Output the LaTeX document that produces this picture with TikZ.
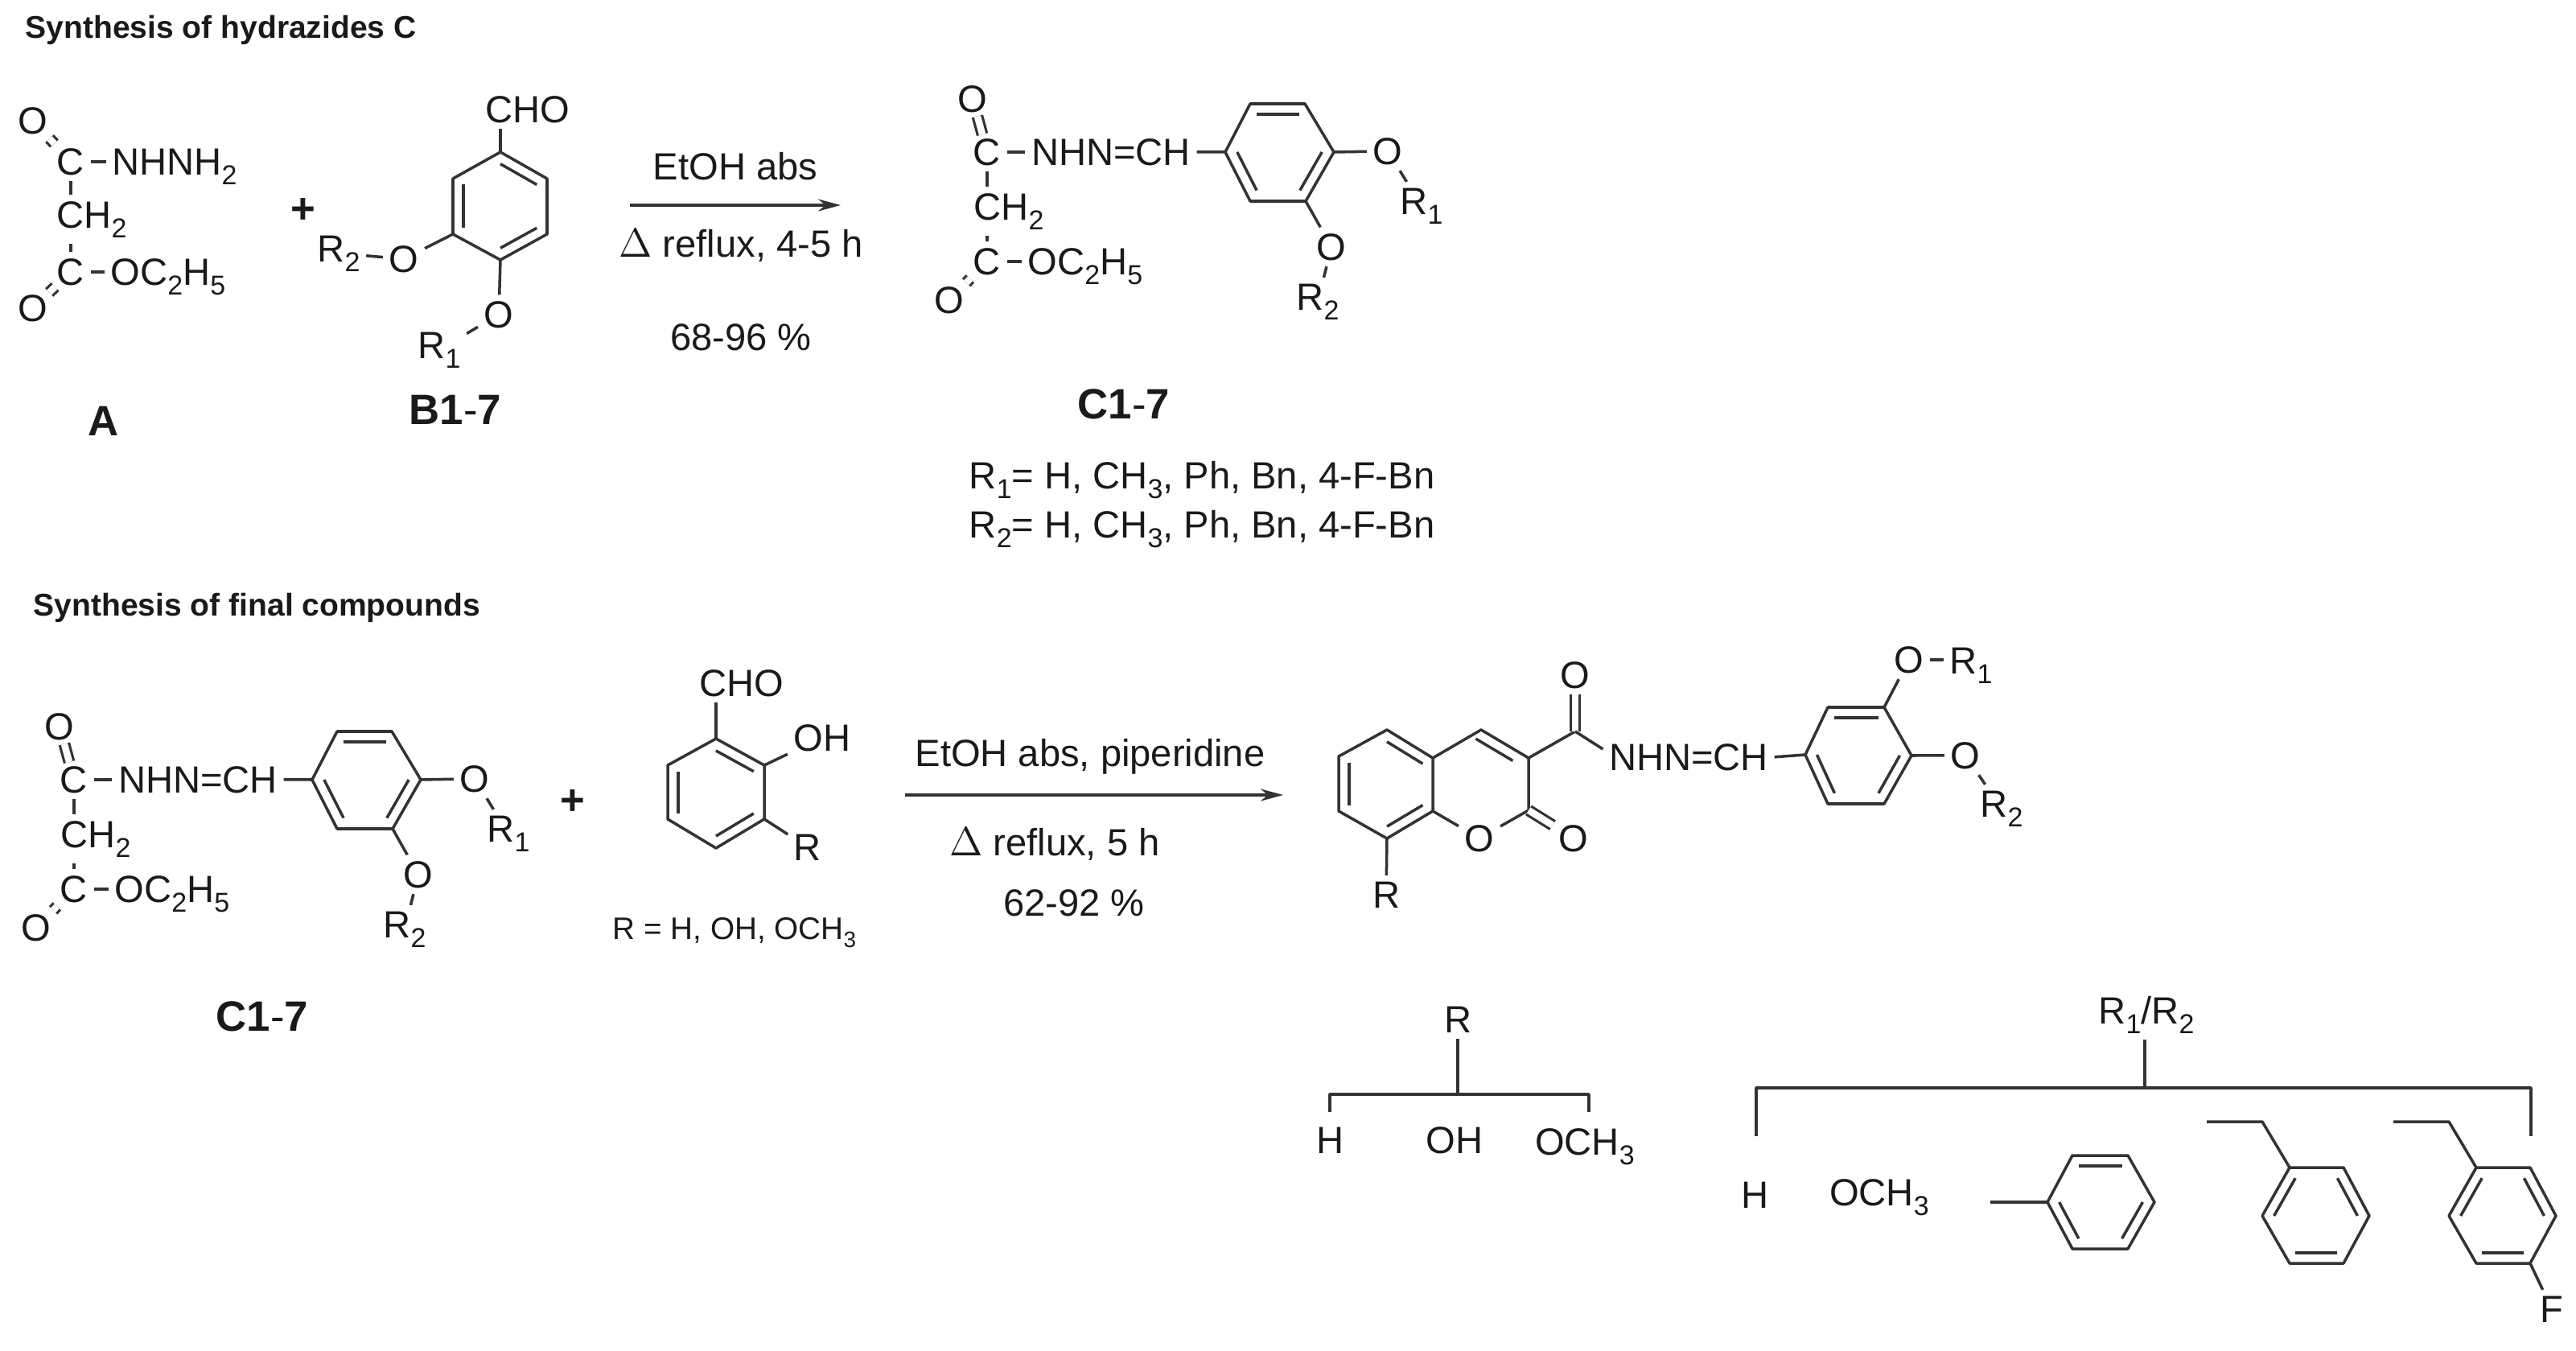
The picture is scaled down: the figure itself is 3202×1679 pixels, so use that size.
\documentclass[tikz,border=0pt]{standalone}
\usepackage{fontspec}
\setmainfont{Liberation Sans}
\usetikzlibrary{calc,arrows.meta}
\definecolor{ink}{HTML}{1A1A1A}
\definecolor{linec}{HTML}{333333}
\newcommand{\sbs}[1]{\raisebox{-.26em}{\scalebox{.72}{#1}}}
\tikzset{
  bond/.style={draw=linec,line width=1pt,line join=round},
  dbl/.style={bond,double=white,double distance=2.4pt,line width=.9pt},
  dblo/.style={dbl,shorten >=-.8pt,shorten <=-.8pt},
  atom/.style={anchor=base,yshift=-.15cm,inner sep=2pt,text=ink,font=\fontsize{13.4}{16}\selectfont},
  small/.style={atom,yshift=.03cm,font=\fontsize{11}{13}\selectfont},
  cpd/.style={atom,yshift=-.02cm,font=\fontsize{15}{18}\selectfont},
  ttl/.style={anchor=west,inner sep=0pt,text=ink,font=\fontsize{11.1}{13}\selectfont\bfseries},
  plus/.style={atom,yshift=-.04cm,font=\fontsize{15}{18}\selectfont\bfseries},
  rxn/.style={draw=linec,line width=1.1pt,-{Stealth[length=.28cm,width=.15cm]}},
}
\newcommand{\ringsix}[7]{%
  \coordinate (#1a) at (#2);\coordinate (#1b) at (#3);\coordinate (#1c) at (#4);
  \coordinate (#1d) at (#5);\coordinate (#1e) at (#6);\coordinate (#1f) at (#7);
  \coordinate (#1o) at ($(#1a)!.5!(#1d)$);
  \draw[bond] (#1a)--(#1b)--(#1c)--(#1d)--(#1e)--(#1f)--cycle;}
\newcommand{\inb}[3]{\draw[bond] ($(#1)!.22!(#3)$) -- ($(#2)!.22!(#3)$);}
% hydrazone fragment, origin on the first carbonyl carbon
\newcommand{\frag}[1]{%
  \node[atom] (#1Ot) at (-18,-66) {O};
  \node[atom] (#1C) at (0,0) {C};
  \node[atom] (#1N) at (154,0) {NHN=CH};
  \node[atom] (#1M) at (27,68) {CH\sbs{2}};
  \node[atom] (#1D) at (0,136) {C};
  \node[atom] (#1E) at (122,136) {OC\sbs{2}H\sbs{5}};
  \node[atom] (#1Ob) at (-47,184) {O};
  \draw[dblo] (#1Ot) -- (#1C);
  \draw[dblo] (#1Ob) -- (#1D);
  \draw[bond] (#1C.east) -- (#1C.east -| #1N.west);
  \draw[bond] (#1D.east) -- (#1D.east -| #1E.west);
  \draw[bond] (#1C.south) -- (#1C.south |- #1M.north);
  \draw[bond] (#1D.north) -- (#1D.north |- #1M.south);
  \ringsix{#1r}{296,-1}{327,-61}{395,-61}{431,-1}{396,60}{327,60}
  \inb{#1rb}{#1rc}{#1ro}\inb{#1ra}{#1rf}{#1ro}\inb{#1rd}{#1re}{#1ro}
  \draw[bond] (#1N.east) -- (#1ra);
  \node[atom] (#1O1) at (498,-1) {O};
  \node[atom] (#1R1) at (540,61) {R\sbs{1}};
  \node[atom] (#1O2) at (428,118) {O};
  \node[atom] (#1R2) at (411,180) {R\sbs{2}};
  \draw[bond] (#1rd) -- (#1O1);
  \draw[bond] (#1O1) -- (#1R1);
  \draw[bond] (#1re) -- (#1O2);
  \draw[bond] (#1O2) -- (#1R2);
}
\begin{document}
\begin{tikzpicture}[x=0.01cm,y=-0.01cm]
\useasboundingbox (0,0) rectangle (3202,1679);
\fill[white] (0,0) rectangle (3202,1679);
% titles
\node[ttl] (t1) at (31,37) {Synthesis of hydrazides C};
\node[ttl] (t2) at (41,755) {Synthesis of final compounds};
% compound A
\node[atom] (aOt) at (41,151) {O};
\node[atom] (aC) at (88,202) {C};
\node[atom] (aN) at (217,202) {NHNH\sbs{2}};
\node[atom] (aM) at (114,268) {CH\sbs{2}};
\node[atom] (aD) at (88,339) {C};
\node[atom] (aE) at (209,339) {OC\sbs{2}H\sbs{5}};
\node[atom] (aOb) at (41,384) {O};
\draw[dblo] (aOt) -- (aC);
\draw[dblo] (aOb) -- (aD);
\draw[bond] (aC.east) -- (aC.east -| aN.west);
\draw[bond] (aD.east) -- (aD.east -| aE.west);
\draw[bond] (aC.south) -- (aC.south |- aM.north);
\draw[bond] (aD.north) -- (aD.north |- aM.south);
\node[cpd] (lA) at (129,524) {\textbf{A}};
\node[plus] (p1) at (377,258) {+};
% compound B
\ringsix{b}{622,189}{680,222}{680,291}{622,323}{563,291}{563,222}
\inb{ba}{bb}{bo}\inb{bc}{bd}{bo}\inb{be}{bf}{bo}
\node[atom] (bCHO) at (656,137) {CHO};
\node[atom] (bO2) at (502,323) {O};
\node[atom] (bR2) at (421,310) {R\sbs{2}};
\node[atom] (bO1) at (620,392) {O};
\node[atom] (bR1) at (546,430) {R\sbs{1}};
\draw[bond] (ba) -- (ba |- bCHO.south);
\draw[bond] (be) -- (bO2);
\draw[bond] (bO2) -- (bR2);
\draw[bond] (bd) -- (bO1);
\draw[bond] (bO1) -- (bR1);
\node[cpd] (lB) at (566,510) {\textbf{B1}-\textbf{7}};
% arrow 1
\coordinate (ar1a) at (783,255);
\coordinate (ar1b) at (1045,255);
\draw[rxn] (ar1a) -- (ar1b);
\node[atom] (c1a) at (914,208) {EtOH abs};
\node[atom] (c1b) at (921,304) {$\Delta$ reflux, 4-5 h};
\node[atom] (c1c) at (921,420) {68-96 \%};
% compound C top
\begin{scope}[shift={(1227,190)}]
\frag{u}
\end{scope}
\node[cpd] (lC) at (1397,503) {\textbf{C1}-\textbf{7}};
\node[atom] (rr1) at (1494,592) {R\sbs{1}= H, CH\sbs{3}, Ph, Bn, 4-F-Bn};
\node[atom] (rr2) at (1494,653) {R\sbs{2}= H, CH\sbs{3}, Ph, Bn, 4-F-Bn};
% lower C
\begin{scope}[shift={(92,970)}]
\frag{v}
\end{scope}
\node[cpd] (lC2) at (326,1264) {\textbf{C1}-\textbf{7}};
\node[plus] (p2) at (712,993) {+};
% aldehyde
\ringsix{s}{890,918}{950,951}{950,1018}{890,1054}{830,1018}{830,951}
\inb{sa}{sb}{so}\inb{sc}{sd}{so}\inb{se}{sf}{so}
\node[atom] (sCHO) at (922,850) {CHO};
\node[atom] (sOH) at (1022,918) {OH};
\node[atom] (sR) at (1004,1054) {R};
\draw[bond] (sa) -- (sa |- sCHO.south);
\draw[bond] (sb) -- (sOH);
\draw[bond] (sc) -- (sR);
\node[small] (sT) at (913,1155) {R = H, OH, OCH\sbs{3}};
% arrow 2
\coordinate (ar2a) at (1125,988);
\coordinate (ar2b) at (1595,988);
\draw[rxn] (ar2a) -- (ar2b);
\node[atom] (c2a) at (1355,937) {EtOH abs, piperidine};
\node[atom] (c2b) at (1311,1048) {$\Delta$ reflux, 5 h};
\node[atom] (c2c) at (1335,1123) {62-92 \%};
% coumarin
\ringsix{k}{1724,907}{1781,942}{1781,1008}{1724,1042}{1664,1008}{1664,940}
\inb{ka}{kb}{ko}\inb{kc}{kd}{ko}\inb{ke}{kf}{ko}
\coordinate (pa) at (1841,907);
\coordinate (pb) at (1900,942);
\coordinate (pc) at (1900,1007);
\coordinate (po) at ($(pa)!.5!(kc)$);
\coordinate (cc) at (1958,909);
\draw[bond] (kb) -- (pa) -- (pb) -- (pc);
\inb{pa}{pb}{po}
\node[atom] (kO1) at (1839,1043) {O};
\node[atom] (kO2) at (1956,1043) {O};
\node[atom] (kO3) at (1958,840) {O};
\node[atom] (kR) at (1723,1113) {R};
\node[atom] (kN) at (2099,942) {NHN=CH};
\draw[bond] (kc) -- (kO1) -- (pc);
\draw[dbl] (pc) -- (kO2);
\draw[bond] (kd) -- (kR);
\draw[bond] (pb) -- (cc);
\draw[dbl] (cc) -- (kO3);
\draw[bond] (cc) -- ($(kN.north west)!.3!(kN.south west)$);
\ringsix{w}{2244,938}{2272,879}{2342,879}{2376,939}{2342,999}{2272,999}
\inb{wb}{wc}{wo}\inb{wa}{wf}{wo}\inb{wd}{we}{wo}
\draw[bond] (kN.east) -- (wa);
\node[atom] (wO1) at (2373,821) {O};
\node[atom] (wR1) at (2450,822) {R\sbs{1}};
\node[atom] (wO2) at (2443,940) {O};
\node[atom] (wR2) at (2488,1000) {R\sbs{2}};
\draw[bond] (wc) -- (wO1);
\draw[bond] (wO1.east) -- (wO1.east -| wR1.west);
\draw[bond] (wd) -- (wO2);
\draw[bond] (wO2) -- (wR2);
% R tree
\node[atom] (tR) at (1812,1268) {R};
\coordinate (tJ) at (1812,1360);
\coordinate (tL) at (1653,1360);
\coordinate (tRr) at (1975,1360);
\coordinate (tLd) at (1653,1382);
\coordinate (tRd) at (1975,1382);
\draw[bond] (tR.south) -- (tJ);
\draw[bond] (tLd) -- (tL) -- (tRr) -- (tRd);
\node[atom] (tH) at (1653,1418) {H};
\node[atom] (tOH) at (1808,1418) {OH};
\node[atom] (tOM) at (1970,1420) {OCH\sbs{3}};
% R1/R2 tree
\node[atom] (qR) at (2668,1257) {R\sbs{1}/R\sbs{2}};
\coordinate (qJ) at (2666,1352);
\coordinate (qL) at (2183,1352);
\coordinate (qRr) at (3146,1352);
\coordinate (qLd) at (2183,1412);
\coordinate (qRd) at (3146,1412);
\draw[bond] (qR.south -| qJ) -- (qJ);
\draw[bond] (qLd) -- (qL) -- (qRr) -- (qRd);
\node[atom] (qH) at (2181,1486) {H};
\node[atom] (qOM) at (2336,1483) {OCH\sbs{3}};
% phenyl
\ringsix{h}{2545,1494}{2576,1436}{2645,1436}{2678,1494}{2645,1552}{2576,1552}
\inb{hb}{hc}{ho}\inb{ha}{hf}{ho}\inb{hd}{he}{ho}
\coordinate (hs) at (2474,1494);
\draw[bond] (hs) -- (ha);
% benzyl
\ringsix{n}{2812,1511}{2846,1451}{2913,1451}{2945,1511}{2913,1570}{2846,1570}
\inb{ne}{nf}{no}\inb{na}{nb}{no}\inb{nc}{nd}{no}
\coordinate (ns1) at (2743,1394);
\coordinate (ns2) at (2812,1394);
\draw[bond] (ns1) -- (ns2) -- (nb);
% 4-F-benzyl
\ringsix{f}{3044,1511}{3078,1451}{3145,1451}{3177,1511}{3145,1570}{3078,1570}
\inb{fe}{ff}{fo}\inb{fa}{fb}{fo}\inb{fc}{fd}{fo}
\coordinate (fs1) at (2975,1394);
\coordinate (fs2) at (3044,1394);
\draw[bond] (fs1) -- (fs2) -- (fb);
\node[atom] (fF) at (3172,1628) {F};
\draw[bond] (fe) -- (fF);
\end{tikzpicture}
\end{document}
